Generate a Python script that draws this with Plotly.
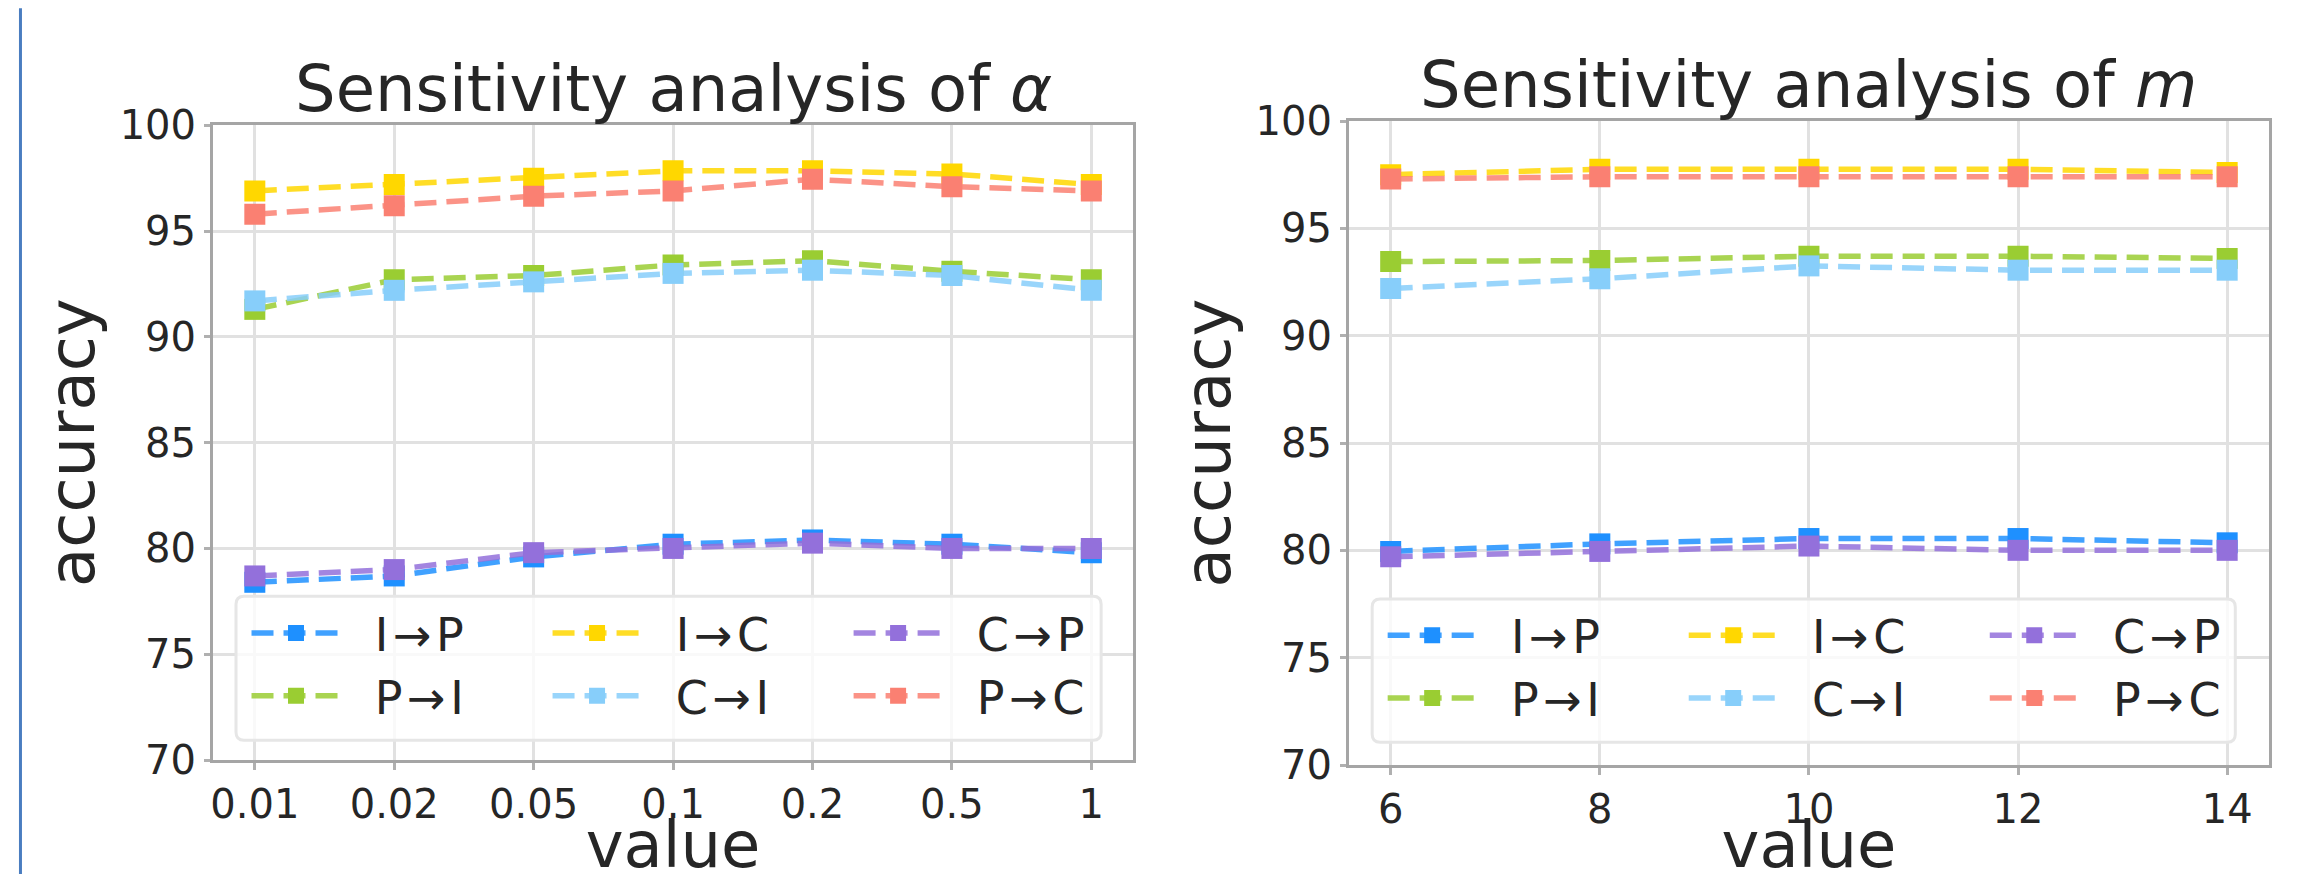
import plotly.graph_objects as go

# ---------------- data ----------------
alpha_labels = ["0.01", "0.02", "0.05", "0.1", "0.2", "0.5", "1"]
m_values = [6, 8, 10, 12, 14]

series_names = ["I→P", "P→I", "I→C", "C→I", "C→P", "P→C"]
series_colors = ["#1E90FF", "#9ACD32", "#FFD700", "#87CEFA", "#9370DB", "#FA8072"]

alpha_I_P = [78.4, 78.7, 79.6, 80.2, 80.4, 80.2, 79.8]
alpha_P_I = [91.3, 92.7, 92.9, 93.4, 93.6, 93.1, 92.7]
alpha_I_C = [96.9, 97.2, 97.5, 97.85, 97.85, 97.7, 97.2]
alpha_C_I = [91.7, 92.2, 92.6, 93.0, 93.15, 92.9, 92.2]
alpha_C_P = [78.7, 79.0, 79.8, 80.0, 80.25, 80.0, 80.0]
alpha_P_C = [95.8, 96.2, 96.65, 96.9, 97.45, 97.1, 96.9]

m_I_P = [79.95, 80.3, 80.55, 80.55, 80.35]
m_P_I = [93.45, 93.5, 93.7, 93.7, 93.6]
m_I_C = [97.5, 97.75, 97.75, 97.75, 97.6]
m_C_I = [92.2, 92.65, 93.25, 93.05, 93.05]
m_C_P = [79.7, 79.95, 80.2, 80.0, 80.0]
m_P_C = [97.3, 97.4, 97.4, 97.4, 97.4]

alpha_series = [alpha_I_P, alpha_P_I, alpha_I_C, alpha_C_I, alpha_C_P, alpha_P_C]
m_series = [m_I_P, m_P_I, m_I_C, m_C_I, m_C_P, m_P_C]

y_ticks = [70, 75, 80, 85, 90, 95, 100]

# ---------------- geometry (pixels) ----------------
W, H = 2314, 874
ML, MR, MT, MB = 205, 53.3, 112.7, 117.3
PW = W - ML - MR
PH = H - MT - MB


def px(x):
    return (x - ML) / PW


def py(y):
    return (H - MB - y) / PH


FONT = "DejaVu Sans"
TXT = "#262626"

fig = go.Figure()

# legend columns: (I→P, P→I), (I→C, C→I), (C→P, P→C)
col_of = [0, 0, 1, 1, 2, 2]


def rgba(hexc, a):
    h = hexc.lstrip("#")
    return "rgba(%d,%d,%d,%.2f)" % (int(h[0:2], 16), int(h[2:4], 16), int(h[4:6], 16), a)


def legend_label(name):
    # small gaps around the arrow and a little room after the symbol, as in the reference
    a, b = name.split("→")
    return "\u00a0\u00a0" + a + "\u200a→\u200a" + b


for panel, (xs, ser) in enumerate([(alpha_labels, alpha_series), (m_values, m_series)]):
    for i, name in enumerate(series_names):
        leg_idx = panel * 3 + col_of[i] + 1
        fig.add_trace(go.Scatter(
            x=xs, y=ser[i], name=legend_label(name),
            mode="lines+markers",
            line=dict(color=rgba(series_colors[i], 0.85), width=5.5, dash="22px,10px"),
            marker=dict(symbol="square", size=21, color=series_colors[i], line=dict(width=0)),
            xaxis="x" if panel == 0 else "x2",
            yaxis="y" if panel == 0 else "y2",
            legend="legend" if leg_idx == 1 else "legend%d" % leg_idx,
            showlegend=True,
        ))

axis_common = dict(
    showline=True, mirror=True, linecolor="#a5a5a5", linewidth=3,
    showgrid=True, gridcolor="#e1e1e1", gridwidth=3,
    zeroline=False,
    ticks="outside", tickcolor="#b0b0b0", tickwidth=3,
    tickfont=dict(family=FONT, size=40, color=TXT),
    title_font=dict(family=FONT, size=64, color=TXT),
)

left_x0, left_x1 = 205, 1125
right_x0, right_x1 = 1340.7, 2260.7
left_yt, left_yb = 117, 751.7
right_yt, right_yb = 112.7, 756.7

fig.update_layout(
    xaxis=dict(domain=[px(left_x0), px(left_x1)], type="category",
               range=[-0.3, 6.3], ticklen=7, anchor="y",
               title=dict(text="value", standoff=15), **axis_common),
    yaxis=dict(domain=[py(left_yb), py(left_yt)], range=[70, 100],
               tickvals=y_ticks, ticklen=6, anchor="x",
               title=dict(text="accuracy", standoff=5), **axis_common),
    xaxis2=dict(domain=[px(right_x0), px(right_x1)], range=[5.6, 14.4],
                tickvals=m_values, ticklen=7, anchor="y2",
                title=dict(text="value", standoff=15), **axis_common),
    yaxis2=dict(domain=[py(right_yb), py(right_yt)], range=[70, 100],
                tickvals=y_ticks, ticklen=6, anchor="x2",
                title=dict(text="accuracy", standoff=5), **axis_common),
)

# legends: one per column, three per panel
ITEMW = 89
marker_x = [288, 589, 890]
for panel in range(2):
    off = 0 if panel == 0 else 1136
    top = 588.3 if panel == 0 else 590.6
    for c in range(3):
        idx = panel * 3 + c + 1
        key = "legend" if idx == 1 else "legend%d" % idx
        fig.update_layout(**{key: dict(
            x=px(marker_x[c] + off - (ITEMW + 10) / 2), xanchor="left",
            y=py(top), yanchor="top",
            orientation="v", bgcolor="rgba(0,0,0,0)", borderwidth=0,
            font=dict(family=FONT, size=46, color=TXT),
            itemwidth=ITEMW, tracegroupgap=0,
        )})


# legend frames (rounded boxes)
def rounded(X0, Y0, X1, Y1, r=8):
    x0, x1, yt, yb = px(X0), px(X1), py(Y0), py(Y1)
    rx, ry = r / PW, r / PH
    return (f"M{x0+rx},{yt} L{x1-rx},{yt} Q{x1},{yt} {x1},{yt-ry} L{x1},{yb+ry} "
            f"Q{x1},{yb} {x1-rx},{yb} L{x0+rx},{yb} Q{x0},{yb} {x0},{yb+ry} "
            f"L{x0},{yt-ry} Q{x0},{yt} {x0+rx},{yt} Z")


shapes = []
for box in [(228, 588, 1093, 732), (1364, 590.7, 2227, 734)]:
    shapes.append(dict(type="path", xref="paper", yref="paper", path=rounded(*box),
                       fillcolor="rgba(255,255,255,0.8)", line=dict(color="#e6e6e6", width=3),
                       layer="above"))
# the thin blue frame lines at the picture's sides
shapes.append(dict(type="line", xref="paper", yref="paper", x0=px(12.5), x1=px(12.5),
                   y0=py(0), y1=py(H), line=dict(color="#4a7dc0", width=3)))
shapes.append(dict(type="line", xref="paper", yref="paper", x0=px(2305.5), x1=px(2305.5),
                   y0=py(0), y1=py(H), line=dict(color="#8eaad6", width=2)))

annotations = [
    dict(text="Sensitivity analysis of <i>α</i>", x=px((left_x0 + left_x1) / 2), y=py(120),
         xref="paper", yref="paper", xanchor="center", yanchor="bottom", showarrow=False,
         font=dict(family=FONT, size=64, color=TXT)),
    dict(text="Sensitivity analysis of <i>m</i>", x=px((right_x0 + right_x1) / 2), y=py(116),
         xref="paper", yref="paper", xanchor="center", yanchor="bottom", showarrow=False,
         font=dict(family=FONT, size=64, color=TXT)),
]

fig.update_layout(
    width=W, height=H,
    margin=dict(l=ML, r=MR, t=MT, b=MB, autoexpand=False),
    paper_bgcolor="white", plot_bgcolor="white",
    shapes=shapes, annotations=annotations,
    showlegend=True,
)

fig.write_html("out.html")
